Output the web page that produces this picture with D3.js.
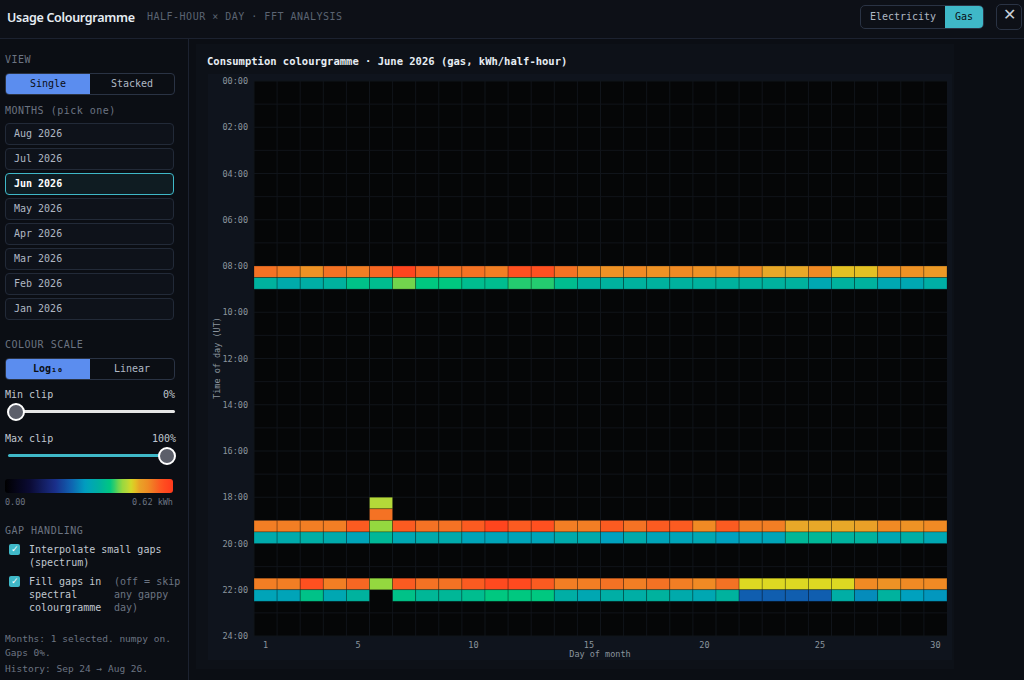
<!DOCTYPE html>
<html><head><meta charset="utf-8">
<script src="https://cdn.jsdelivr.net/npm/d3@7"></script>
<style>
body{margin:0;width:1024px;height:680px;background:#0b0e14;color:#c9d1d9;font-family:"DejaVu Sans Mono",monospace;overflow:hidden;position:relative}
.hdr{position:absolute;left:0;top:0;width:1024px;height:38px;border-bottom:1px solid #1c2230;background:#0d1017}
.title{position:absolute;left:7px;top:9px;font:600 12.5px "Noto Sans",sans-serif;letter-spacing:-0.3px;color:#e6edf3}
.sub{position:absolute;left:147px;top:11px;font-size:10px;color:#5b6472;letter-spacing:.5px}
.tog{position:absolute;left:860px;top:5px;width:122px;height:22px;border:1px solid #2a3344;border-radius:5px;font-size:10px;overflow:hidden}
.tog div{position:absolute;top:0;height:22px;line-height:22px;text-align:center}
.xbtn{position:absolute;left:996px;top:4px;width:24px;height:24px;border:1px solid #2a3344;border-radius:5px;color:#c9d1d9;text-align:center;line-height:24px;font:16px sans-serif}
.side{position:absolute;left:0;top:39px;width:188px;height:641px;border-right:1px solid #1c2230}
.lab{position:absolute;left:5px;font-size:10px;color:#6b7482;letter-spacing:.5px}
.seg{position:absolute;left:5px;width:168px;height:20px;border:1px solid #2a3344;border-radius:4px;font-size:10px;overflow:hidden}
.seg div{position:absolute;top:0;width:84px;height:20px;line-height:20px;text-align:center}
.mon{position:absolute;left:5px;width:167px;height:20px;border:1px solid #222a38;border-radius:4px;font-size:10px;line-height:20px;text-indent:8px;color:#b0b8c4;background:#0e121a}
.txt{position:absolute;font-size:10px;color:#c0c7d0}
.cb{position:absolute;left:9px;width:11px;height:11px;background:#3fb8c8;border-radius:2px;color:#fff;font:9px sans-serif;text-align:center;line-height:11px}
.foot{position:absolute;left:5px;font-size:9.5px;color:#6b7482}
</style></head><body>
<div class="hdr"><div class="title">Usage Colourgramme</div><div class="sub">HALF-HOUR × DAY · FFT ANALYSIS</div>
<div class="tog"><div style="left:0;width:84px;color:#b0b8c4">Electricity</div><div style="left:84px;width:38px;background:#3fb8c8;color:#0b0e14">Gas</div></div>
<div class="xbtn">✕</div></div>
<div class="side">
<div class="lab" style="top:15px">VIEW</div>
<div class="seg" style="top:34px"><div style="left:0;background:#5b8def;color:#0b0e14">Single</div><div style="left:84px;color:#b0b8c4">Stacked</div></div>
<div class="lab" style="top:66px">MONTHS (pick one)</div>
<div id="months"></div>
<div class="lab" style="top:300px">COLOUR SCALE</div>
<div class="seg" style="top:319px"><div style="left:0;background:#5b8def;color:#0b0e14;font-weight:bold">Log₁₀</div><div style="left:84px;color:#b0b8c4">Linear</div></div>
<div class="txt" style="left:5px;top:350px">Min clip</div><div class="txt" style="left:163px;top:350px">0%</div>
<div style="position:absolute;left:8px;top:371px;width:167px;height:3px;background:#e6e6e6;border-radius:2px"></div>
<div style="position:absolute;left:7px;top:364px;width:14px;height:14px;background:#5c5f6a;border:2px solid #fff;border-radius:50%"></div>
<div class="txt" style="left:5px;top:394px">Max clip</div><div class="txt" style="left:152px;top:394px">100%</div>
<div style="position:absolute;left:8px;top:415px;width:160px;height:3px;background:#3fb8c8;border-radius:2px"></div>
<div style="position:absolute;left:158px;top:408px;width:14px;height:14px;background:#5c5f6a;border:2px solid #fff;border-radius:50%"></div>
<svg id="cbar" style="position:absolute;left:5px;top:440px" width="170" height="30"></svg>
<div class="lab" style="top:486px">GAP HANDLING</div>
<div class="cb" style="top:505px">✓</div><div class="txt" style="left:29px;top:504px;line-height:13px">Interpolate small gaps<br>(spectrum)</div>
<div class="cb" style="top:537px">✓</div><div class="txt" style="left:29px;top:536px;line-height:13px">Fill gaps in<br>spectral<br>colourgramme</div>
<div class="txt" style="left:114px;top:536px;line-height:13px;color:#6b7482">(off = skip<br>any gappy<br>day)</div>
<div class="foot" style="top:594px">Months: 1 selected. numpy on.</div>
<div class="foot" style="top:608px">Gaps 0%.</div>
<div class="foot" style="top:624px">History: Sep 24 → Aug 26.</div>
</div>
<div style="position:absolute;left:196px;top:44px;width:758px;height:625px;background:#0d1118"></div>
<div style="position:absolute;left:207px;top:55px;font-size:10.5px;font-weight:bold;color:#e6edf3">Consumption colourgramme · June 2026 (gas, kWh/half-hour)</div>
<svg id="chart" style="position:absolute;left:0;top:0" width="1024" height="680"></svg>
<script>
const months = ["Aug 2026","Jul 2026","Jun 2026","May 2026","Apr 2026","Mar 2026","Feb 2026","Jan 2026"];
const days = d3.range(1, 31);
const slots = d3.range(0, 48); // half-hour index
const yTicks = ["00:00","02:00","04:00","06:00","08:00","10:00","12:00","14:00","16:00","18:00","20:00","22:00","24:00"];
const xTicks = [1,5,10,15,20,25,30];
const vMax = 0.62;
// active slots (others are ~0 kWh)
const s1600 = [0.55,0.54,0.52,0.55,0.54,0.56,0.60,0.56,0.55,0.55,0.54,0.58,0.58,0.55,0.53,0.52,0.53,0.52,0.53,0.52,0.52,0.53,0.49,0.49,0.53,0.48,0.48,0.52,0.52,0.51];
const s1700 = [0.35,0.33,0.34,0.35,0.38,0.37,0.42,0.39,0.39,0.37,0.37,0.40,0.40,0.37,0.35,0.35,0.35,0.35,0.35,0.35,0.35,0.35,0.35,0.35,0.32,0.35,0.35,0.32,0.32,0.34];
const s3600 = [0,0,0,0,0,0.45,0,0,0,0,0,0,0,0,0,0,0,0,0,0,0,0,0,0,0,0,0,0,0,0];
const s3700 = [0,0,0,0,0,0.55,0,0,0,0,0,0,0,0,0,0,0,0,0,0,0,0,0,0,0,0,0,0,0,0];
const s3800 = [0.54,0.54,0.54,0.54,0.57,0.43,0.57,0.55,0.55,0.57,0.60,0.57,0.58,0.54,0.54,0.57,0.55,0.57,0.57,0.53,0.57,0.54,0.54,0.49,0.49,0.49,0.50,0.53,0.52,0.53];
const s3900 = [0.33,0.33,0.34,0.33,0.31,0.36,0.32,0.33,0.33,0.31,0.31,0.31,0.31,0.33,0.33,0.30,0.33,0.31,0.31,0.32,0.30,0.31,0.31,0.36,0.36,0.35,0.35,0.32,0.34,0.32];
const s4300 = [0.54,0.54,0.58,0.54,0.56,0.43,0.57,0.55,0.55,0.57,0.59,0.59,0.57,0.54,0.54,0.55,0.54,0.55,0.54,0.53,0.55,0.47,0.47,0.47,0.47,0.47,0.53,0.52,0.53,0.53];
const s4400 = [0.31,0.31,0.38,0.32,0.35,null,0.38,0.36,0.36,0.37,0.39,0.39,0.39,0.34,0.32,0.34,0.34,0.35,0.33,0.32,0.35,0.24,0.24,0.24,0.24,0.34,0.28,0.35,0.30,0.29];
const active = {16:s1600,17:s1700,36:s3600,37:s3700,38:s3800,39:s3900,43:s4300,44:s4400};

const stopT = [0,0.15,0.3,0.39,0.48,0.56,0.63,0.69,0.73,0.76,0.79,0.855,0.89,0.935,1];
const stopC = ["#000000","#0b0b35","#1a2f8a","#1060b0","#00a0c0","#00b0a0","#00c880","#90d840","#b8d838","#e0d820","#e8a828","#f08a24","#f47024","#ff5020","#ff3a1c"];
const interp = d3.scaleLinear().domain(stopT).range(stopC).interpolate(d3.interpolateRgb);
const color = d3.scaleSequential(interp).domain([0, vMax]);

d3.select("#months").selectAll("div").data(months).join("div")
  .attr("class","mon").style("top",(d,i)=>(84+i*25)+"px")
  .style("color",d=>d==="Jun 2026"?"#fff":null).style("font-weight",d=>d==="Jun 2026"?"bold":null)
  .style("border-color",d=>d==="Jun 2026"?"#3fb8c8":null).style("background",d=>d==="Jun 2026"?"#0f1c22":null)
  .text(d=>d);

const cb = d3.select("#cbar");
const grad = cb.append("defs").append("linearGradient").attr("id","g");
grad.selectAll("stop").data(d3.range(0,1.01,0.025)).join("stop").attr("offset",d=>d).attr("stop-color",d=>interp(d));
cb.append("rect").attr("width",168).attr("height",14).attr("rx",3).attr("fill","url(#g)");
cb.append("text").attr("y",26).attr("font-size",8.5).attr("fill","#6b7482").text("0.00");
cb.append("text").attr("x",168).attr("y",26).attr("text-anchor","end").attr("font-size",8.5).attr("fill","#6b7482").text(vMax.toFixed(2)+" kWh");

const svg = d3.select("#chart");
svg.append("rect").attr("x",208).attr("y",74).attr("width",744).attr("height",586).attr("fill","#0f141d");
const x = d3.scaleBand().domain(days).range([254, 947]);
const y = d3.scaleBand().domain(slots).range([81, 636]);
const yt = d3.scaleLinear().domain([0, 24]).range([81, 636]);
svg.append("rect").attr("x",254).attr("y",81).attr("width",693).attr("height",555).attr("fill","#050607");
const g = svg.append("g");
g.selectAll("line.v").data(days).join("line").attr("x1",d=>x(d)).attr("x2",d=>x(d)).attr("y1",81).attr("y2",636).attr("stroke","#10141a");
g.selectAll("line.h").data(d3.range(0,25)).join("line").attr("y1",d=>yt(d)).attr("y2",d=>yt(d)).attr("x1",254).attr("x2",947).attr("stroke","#10141a");

const cells = [];
Object.keys(active).forEach(k => active[k].forEach((v,i) => { if (v) cells.push({slot:+k, day:days[i], v}); }));
svg.selectAll("rect.c").data(cells).join("rect").attr("class","c")
  .attr("x",d=>x(d.day)).attr("y",d=>y(d.slot)).attr("width",x.bandwidth()).attr("height",y.bandwidth())
  .attr("fill",d=>color(d.v)).attr("stroke","rgba(0,0,0,0.3)").attr("stroke-width",0.8);

const ax = svg.append("g").attr("font-family","DejaVu Sans Mono").attr("font-size",8.5).attr("fill","#8b949e");
ax.selectAll("text.y").data(yTicks).join("text").attr("x",248).attr("y",(d,i)=>yt(i*2)+3).attr("text-anchor","end").text(d=>d);
ax.selectAll("text.x").data(xTicks).join("text").attr("x",d=>x(d)+x.bandwidth()/2).attr("y",648).attr("text-anchor","middle").text(d=>d);
ax.append("text").attr("x",600).attr("y",657).attr("text-anchor","middle").text("Day of month");
ax.append("text").attr("transform","translate(220,358) rotate(-90)").attr("text-anchor","middle").text("Time of day (UT)");
</script></body></html>
